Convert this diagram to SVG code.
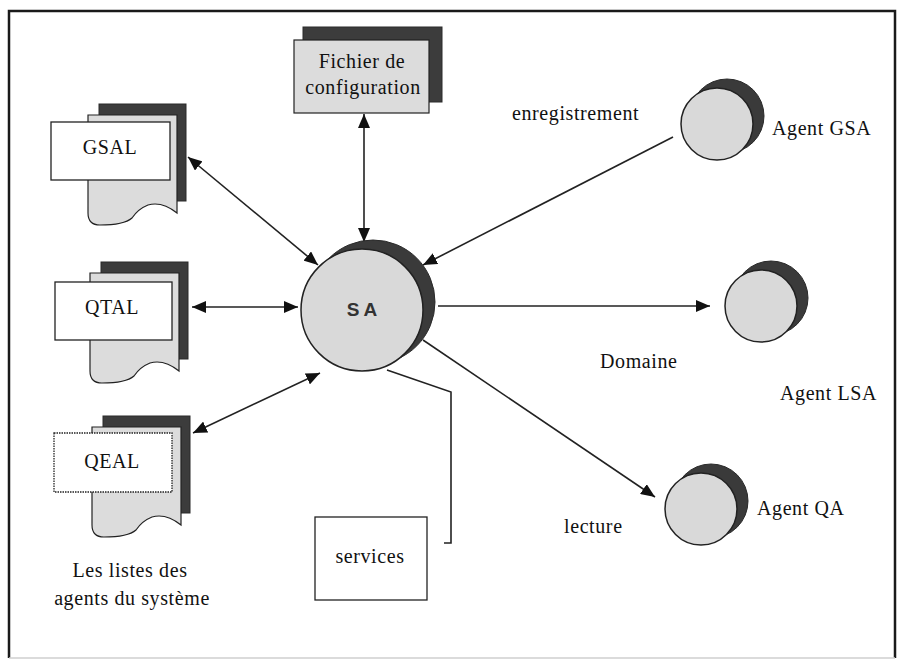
<svg xmlns="http://www.w3.org/2000/svg" xmlns:xlink="http://www.w3.org/1999/xlink" width="900" height="663" viewBox="0 0 900 663">
  <style>
    .frame { fill: none; stroke: #1a1a1a; stroke-width: 2.5; }
    .back { fill: #3c3c3c; stroke: #2a2a2a; stroke-width: 1; }
    .page { fill: #dcdcdc; stroke: #222; stroke-width: 1.2; }
    .label { fill: #ffffff; stroke: #222; stroke-width: 1.3; }
    .orb { fill: #d9d9d9; stroke: #222; stroke-width: 1.5; }
    .orb-back { fill: #3a3a3a; stroke: #2a2a2a; stroke-width: 1; }
    .link { fill: none; stroke: #222; stroke-width: 1.6; }
    .t { font-family: "Liberation Serif", "Times New Roman", serif; font-size: 20px; letter-spacing: 0.6px; fill: #111; }
    .c { text-anchor: middle; }
    .sa { font-family: "Liberation Sans", Arial, sans-serif; font-size: 19px; font-weight: bold; fill: #333; letter-spacing: 4px; }
  </style>
  <defs>
    <marker id="ah" viewBox="0 0 14 12" refX="14" refY="6" markerWidth="14" markerHeight="12" markerUnits="userSpaceOnUse" orient="auto-start-reverse">
      <path d="M0,0 L14,6 L0,12 Z" fill="#111"/>
    </marker>
    <!-- stacked list document: dark back sheet, wavy-bottom page -->
    <g id="listdoc">
      <rect class="back" x="11" y="-11" width="87" height="97"/>
      <path class="page" d="M0,0 H89 V98 Q74,86 60,90 Q50,94 44,103 Q36,110 12,110 Q0,110 0,98 Z"/>
    </g>
    <!-- agent: offset dark disc behind a light disc -->
    <g id="agent">
      <circle class="orb-back" cx="10" cy="-8" r="37"/>
      <circle class="orb" cx="0" cy="0" r="36"/>
    </g>
  </defs>

  <!-- outer frame -->
  <path class="frame" d="M9,658 V11 H895 V658"/>
  <line x1="9" y1="658" x2="895" y2="658" stroke="#cfcfcf" stroke-width="1.5"/>

  <!-- connectors -->
  <g id="connectors">
    <line class="link" x1="188" y1="157" x2="318" y2="265" marker-start="url(#ah)" marker-end="url(#ah)"/>
    <line class="link" x1="192" y1="307" x2="298" y2="307" marker-start="url(#ah)" marker-end="url(#ah)"/>
    <line class="link" x1="193" y1="433" x2="320" y2="373" marker-start="url(#ah)" marker-end="url(#ah)"/>
    <line class="link" x1="364" y1="114" x2="364" y2="242" marker-start="url(#ah)" marker-end="url(#ah)"/>
    <line class="link" x1="673" y1="137" x2="423" y2="265" marker-end="url(#ah)"/>
    <line class="link" x1="438" y1="306" x2="710" y2="306" marker-end="url(#ah)"/>
    <line class="link" x1="423" y1="340" x2="655" y2="497" marker-end="url(#ah)"/>
    <polyline class="link" points="387,370 451,392 451,543 444,543"/>
  </g>

  <!-- list documents -->
  <g id="gsal">
    <use xlink:href="#listdoc" transform="translate(88,115)"/>
    <rect class="label" x="51" y="122" width="119" height="58"/>
    <text class="t c" x="110" y="154">GSAL</text>
  </g>
  <g id="qtal">
    <use xlink:href="#listdoc" transform="translate(90,273)"/>
    <rect class="label" x="55" y="282" width="117" height="58"/>
    <text class="t c" x="112" y="314">QTAL</text>
  </g>
  <g id="qeal">
    <use xlink:href="#listdoc" transform="translate(92,427)"/>
    <rect class="label" x="54" y="433" width="118" height="59" stroke-dasharray="1.5 1"/>
    <text class="t c" x="112" y="468">QEAL</text>
  </g>
  <g id="lists-caption">
    <text class="t c" x="130" y="577" font-size="21">Les listes des</text>
    <text class="t c" x="132" y="605" font-size="21">agents du système</text>
  </g>

  <!-- configuration file -->
  <g id="config">
    <rect class="back" x="303" y="27" width="139" height="75"/>
    <rect class="page" x="294" y="40" width="135" height="73"/>
    <text class="t c" x="362" y="68">Fichier de</text>
    <text class="t c" x="363" y="94">configuration</text>
  </g>

  <!-- system agent -->
  <g id="sa">
    <circle class="orb-back" cx="373" cy="302" r="62"/>
    <circle class="orb" cx="362" cy="310" r="61"/>
    <text class="sa c" x="364" y="316">SA</text>
  </g>

  <!-- services -->
  <g id="services">
    <rect class="label" x="315" y="517" width="112" height="83"/>
    <text class="t c" x="370" y="563">services</text>
  </g>

  <!-- agents -->
  <g id="agent-gsa">
    <use xlink:href="#agent" transform="translate(717,124)"/>
    <text class="t" x="772" y="135">Agent GSA</text>
  </g>
  <g id="agent-lsa">
    <use xlink:href="#agent" transform="translate(761,306)"/>
    <text class="t" x="780" y="400">Agent LSA</text>
  </g>
  <g id="agent-qa">
    <use xlink:href="#agent" transform="translate(701,509)"/>
    <text class="t" x="757" y="515">Agent QA</text>
  </g>

  <!-- connector labels -->
  <g id="labels">
    <text class="t" x="512" y="120">enregistrement</text>
    <text class="t" x="600" y="368">Domaine</text>
    <text class="t" x="564" y="533">lecture</text>
  </g>
</svg>
